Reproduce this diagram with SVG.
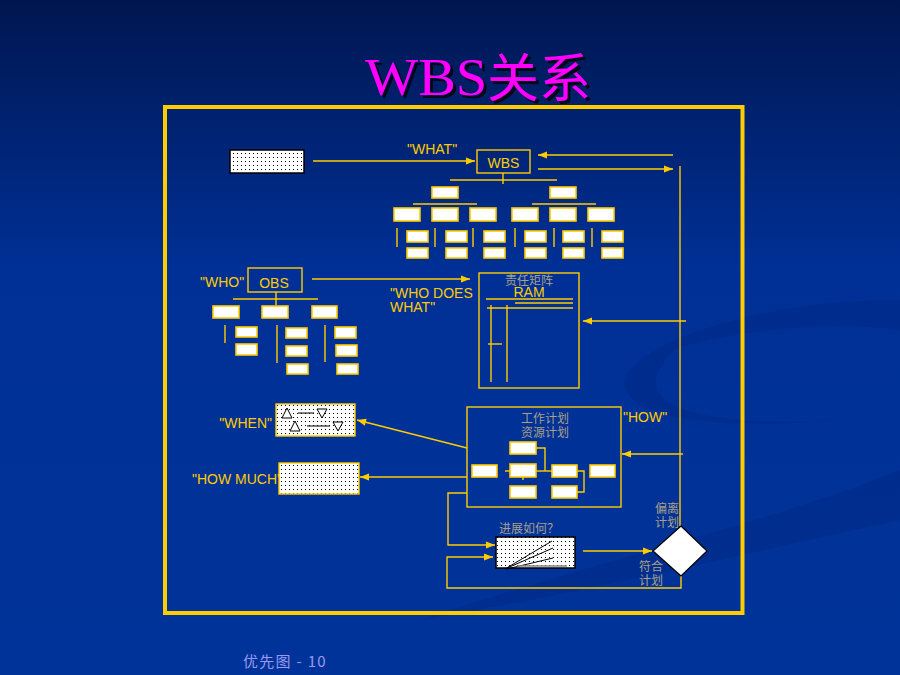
<svg xmlns="http://www.w3.org/2000/svg" width="900" height="675" viewBox="0 0 900 675">
<defs>
<linearGradient id="bg" x1="0" y1="0" x2="0" y2="1">
<stop offset="0" stop-color="#001650"/>
<stop offset="0.4" stop-color="#003096"/>
<stop offset="1" stop-color="#003399"/>
</linearGradient>
<pattern id="dots" width="4" height="4" patternUnits="userSpaceOnUse">
<rect width="4" height="4" fill="#ffffff"/>
<rect x="1" y="1" width="1" height="1" fill="#000000"/>
</pattern>
<filter id="shadow" x="-5%" y="-10%" width="115%" height="130%">
<feDropShadow dx="3" dy="3" stdDeviation="0.6" flood-color="#000000" flood-opacity="0.75"/>
</filter>
<marker id="arr" viewBox="0 0 10 10" refX="10" refY="5" markerWidth="13" markerHeight="9" markerUnits="userSpaceOnUse" orient="auto">
<path d="M0,1 L10,5 L0,9 Z" fill="#FFCC00"/>
</marker>
<style>
.ln{stroke:#FFCC00;stroke-width:1.4;fill:none}
.bx{fill:#ffffff;stroke:#FFCC00;stroke-width:1.6}
.fr{fill:none;stroke:#FFCC00;stroke-width:1.4}
.lbl{font-family:"Liberation Sans",Arial,sans-serif;font-size:14px;fill:#FFCC00}
.cn{font-family:"Noto Sans CJK SC",sans-serif;font-size:12px;fill:#A8A088}
.blk{stroke:#000000;stroke-width:1;fill:none}
.tri{fill:#ffffff;stroke:#000000;stroke-width:1}
</style>
</defs>
<rect width="900" height="675" fill="url(#bg)"/>
<g id="decor" fill="#002C8C" opacity="0.8">
<path d="M900,470 C780,520 600,560 420,620 C600,590 780,545 900,520 Z"/>
<path d="M700,330 C560,380 620,440 840,420 C640,430 620,385 700,330 Z"/>
<path d="M900,300 C800,300 700,320 640,360 C720,330 820,320 900,330 Z"/>
</g>
<g id="title" filter="url(#shadow)" fill="#FF00FF" font-size="52">
<text x="365" y="95" font-family="'Liberation Serif',serif" textLength="122" lengthAdjust="spacingAndGlyphs">WBS</text>
<text x="487" y="97" font-family="'Noto Sans CJK SC',sans-serif" textLength="104" lengthAdjust="spacingAndGlyphs">关系</text>
</g>
<rect id="frame" x="165" y="107" width="577.5" height="506" fill="none" stroke="#FFCC00" stroke-width="4"/>

<g id="connectors">
<line class="ln" x1="313" y1="161" x2="475" y2="161" marker-end="url(#arr)"/>
<line class="ln" x1="673" y1="155" x2="538" y2="155" marker-end="url(#arr)"/>
<line class="ln" x1="538" y1="169" x2="673" y2="169" marker-end="url(#arr)"/>
<line class="ln" x1="680" y1="166" x2="680" y2="526"/>
<line class="ln" x1="686" y1="321" x2="583" y2="321" marker-end="url(#arr)"/>
<line class="ln" x1="683" y1="454" x2="622" y2="454" marker-end="url(#arr)"/>
<line class="ln" x1="312" y1="279" x2="470" y2="279" marker-end="url(#arr)"/>
<line class="ln" x1="467" y1="448" x2="357" y2="420" marker-end="url(#arr)"/>
<line class="ln" x1="467" y1="477" x2="360" y2="477" marker-end="url(#arr)"/>
<polyline class="ln" points="467,493 448,493 448,545 495,545" marker-end="url(#arr)"/>
<polyline class="ln" points="681,576 681,588 447,588 447,557 493,557" marker-end="url(#arr)"/>
<line class="ln" x1="583" y1="551" x2="652" y2="551" marker-end="url(#arr)"/>
</g>

<g id="source">
<rect x="230" y="150" width="74" height="23" fill="url(#dots)" stroke="#000000" stroke-width="1.5"/>
</g>

<g id="wbs">
<text class="lbl" x="407" y="154">"WHAT"</text>
<rect class="fr" x="477" y="150" width="53" height="23"/>
<text class="lbl" x="503.5" y="168" text-anchor="middle" font-size="13">WBS</text>
<line class="ln" x1="503" y1="173" x2="503" y2="184"/>
<line class="ln" x1="450" y1="180" x2="557" y2="180"/>
<rect class="bx" x="432" y="187" width="26" height="11"/>
<rect class="bx" x="550" y="187" width="26" height="11"/>
<line class="ln" x1="413" y1="204" x2="477" y2="204"/>
<line class="ln" x1="532" y1="204" x2="596" y2="204"/>
<rect class="bx" x="394" y="208" width="26" height="13"/>
<rect class="bx" x="432" y="208" width="26" height="13"/>
<rect class="bx" x="470" y="208" width="26" height="13"/>
<rect class="bx" x="512" y="208" width="26" height="13"/>
<rect class="bx" x="550" y="208" width="26" height="13"/>
<rect class="bx" x="588" y="208" width="26" height="13"/>
<g>
<line class="ln" x1="397" y1="228" x2="397" y2="247"/>
<line class="ln" x1="435" y1="228" x2="435" y2="247"/>
<line class="ln" x1="473" y1="228" x2="473" y2="247"/>
<line class="ln" x1="515" y1="228" x2="515" y2="247"/>
<line class="ln" x1="554" y1="228" x2="554" y2="247"/>
<line class="ln" x1="592" y1="228" x2="592" y2="247"/>
</g>
<rect class="bx" x="407" y="231" width="21" height="11"/>
<rect class="bx" x="407" y="248" width="21" height="10"/>
<rect class="bx" x="446" y="231" width="21" height="11"/>
<rect class="bx" x="446" y="248" width="21" height="10"/>
<rect class="bx" x="484" y="231" width="21" height="11"/>
<rect class="bx" x="484" y="248" width="21" height="10"/>
<rect class="bx" x="525" y="231" width="21" height="11"/>
<rect class="bx" x="525" y="248" width="21" height="10"/>
<rect class="bx" x="563" y="231" width="21" height="11"/>
<rect class="bx" x="563" y="248" width="21" height="10"/>
<rect class="bx" x="602" y="231" width="21" height="11"/>
<rect class="bx" x="602" y="248" width="21" height="10"/>
</g>

<g id="obs">
<text class="lbl" x="200" y="287">"WHO"</text>
<rect class="fr" x="248" y="268" width="54" height="24"/>
<text class="lbl" x="274" y="288" text-anchor="middle" font-size="13">OBS</text>
<line class="ln" x1="276" y1="292" x2="276" y2="305"/>
<line class="ln" x1="233" y1="299" x2="318" y2="299"/>
<rect class="bx" x="213" y="306" width="26" height="12"/>
<rect class="bx" x="262" y="306" width="26" height="12"/>
<rect class="bx" x="312" y="306" width="25" height="12"/>
<line class="ln" x1="225" y1="325" x2="225" y2="343"/>
<line class="ln" x1="277" y1="325" x2="277" y2="363"/>
<line class="ln" x1="325" y1="325" x2="325" y2="362"/>
<rect class="bx" x="236" y="327" width="21" height="10"/>
<rect class="bx" x="236" y="344" width="21" height="11"/>
<rect class="bx" x="286" y="328" width="21" height="10"/>
<rect class="bx" x="286" y="346" width="21" height="10"/>
<rect class="bx" x="287" y="364" width="21" height="10"/>
<rect class="bx" x="335" y="327" width="21" height="11"/>
<rect class="bx" x="336" y="345" width="21" height="11"/>
<rect class="bx" x="337" y="364" width="21" height="10"/>
<text class="lbl" x="390" y="298">"WHO DOES</text>
<text class="lbl" x="390" y="312">WHAT"</text>
</g>

<g id="ram">
<rect class="fr" x="479" y="273" width="100" height="115"/>
<text class="cn" x="529" y="285" text-anchor="middle" font-size="11">责任矩阵</text>
<text class="lbl" x="529" y="297" text-anchor="middle" font-size="12">RAM</text>
<line class="ln" x1="486" y1="299" x2="573" y2="299"/>
<line class="ln" x1="515" y1="303" x2="573" y2="303"/>
<line class="ln" x1="487" y1="308" x2="573" y2="308"/>
<line class="ln" x1="491" y1="305" x2="491" y2="382"/>
<line class="ln" x1="507" y1="305" x2="507" y2="382"/>
<line class="ln" x1="488" y1="344" x2="502" y2="344"/>
</g>

<g id="when">
<text class="lbl" x="272" y="428" text-anchor="end">"WHEN"</text>
<rect x="276" y="404" width="79" height="32" fill="url(#dots)" stroke="#FFCC00" stroke-width="1.4"/>
<path class="tri" d="M287,408 L292,418 L282,418 Z"/>
<line class="blk" x1="298" y1="413" x2="314" y2="413"/>
<path class="tri" d="M317,409 L327,409 L322,418 Z"/>
<path class="tri" d="M295,421 L300,431 L290,431 Z"/>
<line class="blk" x1="307" y1="426" x2="330" y2="426"/>
<path class="tri" d="M333,422 L343,422 L338,431 Z"/>
</g>

<g id="howmuch">
<text class="lbl" x="192" y="484">"HOW MUCH"</text>
<rect x="279" y="463" width="80" height="31" fill="url(#dots)" stroke="#FFCC00" stroke-width="1.4"/>
</g>

<g id="plan">
<rect class="fr" x="467" y="407" width="154" height="100"/>
<text class="cn" x="545" y="423" text-anchor="middle" font-size="12.5">工作计划</text>
<text class="cn" x="545" y="437" text-anchor="middle" font-size="12.5">资源计划</text>
<polyline class="ln" points="536,448 545,448 545,471"/>
<line class="ln" x1="536" y1="471" x2="552" y2="471"/>
<polyline class="ln" points="577,471 584,471 584,492 577,492"/>
<line class="ln" x1="505" y1="471" x2="510" y2="471"/>
<line class="ln" x1="523" y1="476" x2="523" y2="480"/>
<rect class="bx" x="510" y="442" width="26" height="12"/>
<rect class="bx" x="510" y="464" width="26" height="13"/>
<rect class="bx" x="510" y="486" width="26" height="12"/>
<rect class="bx" x="472" y="465" width="25" height="12"/>
<rect class="bx" x="552" y="465" width="25" height="12"/>
<rect class="bx" x="552" y="486" width="25" height="12"/>
<rect class="bx" x="590" y="465" width="25" height="12"/>
<text class="lbl" x="623" y="422">"HOW"</text>
</g>

<g id="progress">
<text class="cn" x="499" y="533" font-size="13">进展如何？</text>
<rect x="496" y="537" width="79" height="31" fill="url(#dots)" stroke="#000000" stroke-width="1.5"/>
<line class="blk" x1="505" y1="569" x2="552" y2="541"/>
<line class="blk" x1="505" y1="569" x2="553" y2="548"/>
<line class="blk" x1="507" y1="569" x2="553" y2="558"/>
<line x1="517" y1="566" x2="567" y2="566" stroke="#888888" stroke-width="1.5"/>
</g>

<g id="decision">
<path d="M681,526 L707,551 L681,576 L653,551 Z" fill="#ffffff" stroke="#000000" stroke-width="1.2"/>
<text class="cn" x="655" y="513">偏离</text>
<text class="cn" x="655" y="527">计划</text>
<text class="cn" x="639" y="571">符合</text>
<text class="cn" x="639" y="585">计划</text>
</g>

<text id="footer" x="243" y="667" font-family="'Noto Sans CJK SC','Liberation Sans',sans-serif" font-size="15" letter-spacing="1.3" fill="#9A9AF0">优先图 - 10</text>
</svg>
